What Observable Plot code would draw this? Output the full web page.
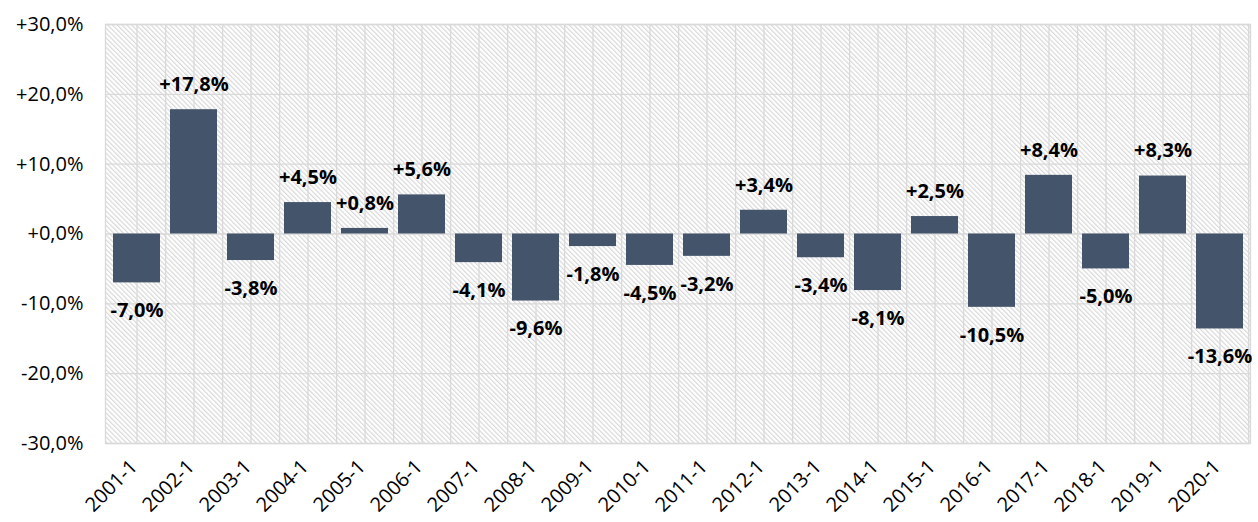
<!DOCTYPE html>
<html>
<head>
<meta charset="utf-8">
<script src="https://cdn.jsdelivr.net/npm/d3@7"></script>
<script src="https://cdn.jsdelivr.net/npm/@observablehq/plot@0.6"></script>
<style>
  html, body { margin: 0; padding: 0; background: #fff; }
  #chart svg g[aria-label="y-axis tick label"] text,
  #chart svg g[aria-label="x-axis tick label"] text { font-size: 20px !important; fill: #000; }
  #chart svg g.value-label text { font-size: 20px !important; font-weight: bold; }
</style>
</head>
<body>
<div id="chart"></div>
<script>
const periods = ["2001-1","2002-1","2003-1","2004-1","2005-1","2006-1","2007-1","2008-1","2009-1","2010-1",
                 "2011-1","2012-1","2013-1","2014-1","2015-1","2016-1","2017-1","2018-1","2019-1","2020-1"];
const values = [-7.0, 17.8, -3.8, 4.5, 0.8, 5.6, -4.1, -9.6, -1.8, -4.5,
                -3.2, 3.4, -3.4, -8.1, 2.5, -10.5, 8.4, -5.0, 8.3, -13.6];
const yTicks = [-30, -20, -10, 0, 10, 20, 30];

const data = periods.map((p, i) => ({period: p, value: values[i]}));
const fmt = v => (v >= 0 ? "+" : "-") + Math.abs(v).toFixed(1).replace(".", ",") + "%";

const W = 1258, H = 522, ML = 105, MR = 8, MT = 24, MB = 79;
const step = (W - ML - MR) / periods.length;
const gridColor = "#d9d9d9";

const svg = Plot.plot({
  width: W, height: H,
  marginLeft: ML, marginRight: MR, marginTop: MT, marginBottom: MB,
  style: {fontFamily: "'Open Sans', Lato, sans-serif", fontSize: "20px", color: "#000", background: "#fff"},
  x: {domain: periods, paddingInner: 0.18, paddingOuter: 0.09, label: null},
  y: {domain: [-30, 30], label: null},
  marks: [
    Plot.frame({fill: "url(#hatch)", stroke: null}),
    Plot.gridY(yTicks, {stroke: gridColor, strokeOpacity: 1, strokeWidth: 1.3}),
    Plot.gridX(periods, {stroke: gridColor, strokeOpacity: 1, strokeWidth: 1.3}),
    Plot.ruleX(periods, {dx: step / 2, stroke: gridColor, strokeWidth: 1.3}),
    Plot.frame({stroke: gridColor, strokeWidth: 1.3}),
    Plot.axisY(yTicks, {tickFormat: fmt, tickSize: 0, tickPadding: 22, fontSize: 20, fill: "#000", label: null}),
    Plot.axisX(periods, {tickRotate: -45, tickSize: 0, tickPadding: 12, dx: -3, dy: 8, fontSize: 20, fill: "#000", label: null}),
    Plot.barY(data, {x: "period", y: "value", fill: "#44546A"}),
    Plot.text(data.filter(d => d.value >= 0), {x: "period", y: "value", text: d => fmt(d.value), dy: -25, fontWeight: "bold", fill: "#000", fontSize: 20, className: "value-label"}),
    Plot.text(data.filter(d => d.value < 0), {x: "period", y: "value", text: d => fmt(d.value), dy: 28, fontWeight: "bold", fill: "#000", fontSize: 20, className: "value-label"})
  ]
});

const defs = d3.select(svg).insert("defs", ":first-child");
const pat = defs.append("pattern")
  .attr("id", "hatch")
  .attr("patternUnits", "userSpaceOnUse")
  .attr("width", 3.4).attr("height", 10)
  .attr("patternTransform", "rotate(-45)");
pat.append("rect").attr("width", 3.4).attr("height", 10).attr("fill", "#fff");
pat.append("line").attr("x1", 0.6).attr("y1", 0).attr("x2", 0.6).attr("y2", 10)
  .attr("stroke", "#d6d6d6").attr("stroke-width", 1.1);

document.getElementById("chart").appendChild(svg);
</script>
</body>
</html>
